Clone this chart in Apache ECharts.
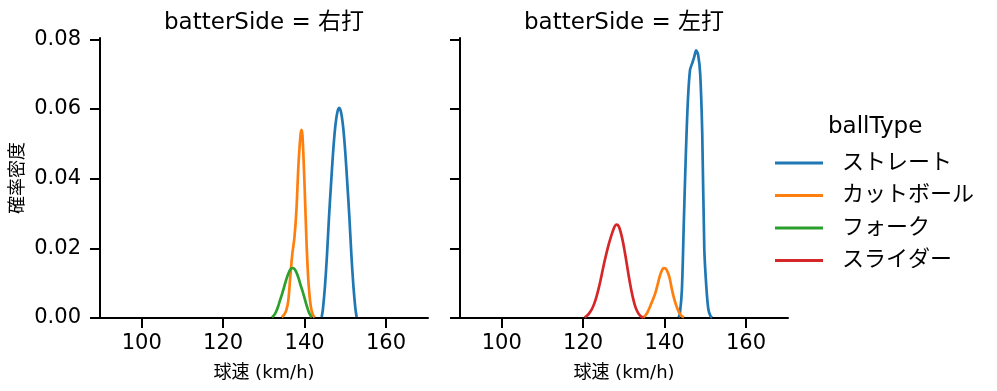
<!DOCTYPE html>
<html>
<head>
<meta charset="utf-8">
<script src="https://cdn.jsdelivr.net/npm/echarts@6/dist/echarts.min.js"></script>
<style>html,body{margin:0;padding:0;background:#fff}#c{width:997px;height:391px}</style>
</head>
<body>
<div id="c"></div>
<script>
// ---- data ----
const panels = ['右打', '左打'];
const ballTypes = ['ストレート', 'カットボール', 'フォーク', 'スライダー'];
const xTicks = [100, 120, 140, 160];
const yTicks = [0, 0.02, 0.04, 0.06, 0.08];

// batterSide = 右打
const R_straight = [[144.2,0.0003],[144.5,0.0025],[145,0.009],[145.5,0.018],[146,0.029],[146.5,0.0385],[147,0.0475],[147.5,0.0545],[148,0.0588],[148.5,0.0603],[149,0.0588],[149.5,0.0545],[150,0.0475],[150.5,0.0385],[151,0.029],[151.5,0.018],[152,0.009],[152.5,0.0025],[152.8,0.0003]];
const R_cutter = [[134.4,0.0002],[135,0.0010],[135.5,0.0022],[136,0.005],[136.5,0.012],[137,0.0185],[137.5,0.023],[138,0.031],[138.5,0.044],[139,0.0525],[139.25,0.054],[139.5,0.052],[140,0.038],[140.5,0.021],[141,0.0095],[141.5,0.0035],[142,0.001],[142.5,0.0002]];
const R_fork = [[132,0.0002],[132.5,0.0008],[133,0.0018],[133.5,0.0033],[134,0.0052],[134.5,0.007],[135,0.009],[135.5,0.011],[136,0.0127],[136.5,0.0139],[137,0.01435],[137.5,0.0141],[138,0.0131],[138.5,0.0115],[139,0.0095],[139.5,0.0077],[140,0.0057],[140.5,0.0036],[141,0.0018],[141.5,0.0006],[141.8,0.0002]];

// batterSide = 左打
const L_straight = [[143.45,0.0002],[143.75,0.0012],[144.25,0.008],[144.75,0.0285],[145.25,0.048],[145.75,0.063],[146.25,0.0712],[146.75,0.073],[147.25,0.0748],[147.75,0.0768],[148.25,0.0755],[148.75,0.07],[149.25,0.053],[149.75,0.020],[150.25,0.009],[150.75,0.0025],[151.25,0.0006],[151.65,0.0001]];
const L_cutter = [[134.75,0.0002],[135.25,0.0007],[135.75,0.0015],[136.25,0.0028],[136.75,0.0042],[137.25,0.0056],[137.75,0.0072],[138.25,0.0094],[138.75,0.0117],[139.25,0.0134],[139.75,0.0143],[140.25,0.0142],[140.75,0.0132],[141.25,0.0114],[141.75,0.0085],[142.25,0.006],[142.75,0.004],[143.25,0.0024],[143.75,0.0012],[144.25,0.0005],[144.75,0.0002]];
const L_slider = [[120.35,0.0002],[120.75,0.0005],[121.25,0.001],[121.75,0.0018],[122.25,0.0028],[122.75,0.0042],[123.25,0.006],[123.75,0.0082],[124.25,0.0107],[124.75,0.0135],[125.25,0.0162],[125.75,0.0187],[126.25,0.021],[126.75,0.023],[127.25,0.0248],[127.75,0.0263],[128.25,0.0268],[128.75,0.0263],[129.25,0.0245],[129.75,0.022],[130.25,0.0188],[130.75,0.0153],[131.25,0.0117],[131.75,0.0085],[132.25,0.0057],[132.75,0.0035],[133.25,0.002],[133.75,0.001],[134.25,0.0004],[134.75,0.0001]];

// ---- styling ----
const FONT = '"DejaVu Sans", "Noto Sans CJK JP", sans-serif';
const colorOf = {'ストレート':'#1f77b4','カットボール':'#ff7f0e','フォーク':'#2ca02c','スライダー':'#d62728'};
const X_MIN = 89.76, X_MAX = 170.31, Y_MAX = 0.08037;

function xAxisCfg(gi) {
  return {
    type: 'value', gridIndex: gi, min: X_MIN, max: X_MAX,
    name: '球速 (km/h)', nameLocation: 'middle', nameGap: 46,
    nameTextStyle: {fontFamily: FONT, fontSize: 18, color: '#000'},
    axisLine: {show: true, onZero: false, lineStyle: {color: '#000', width: 2}},
    axisTick: {show: true, length: 10, inside: false, lineStyle: {color: '#000', width: 2}, customValues: xTicks},
    axisLabel: {show: true, fontFamily: FONT, fontSize: 21, color: '#000', margin: 15, customValues: xTicks, formatter: v => String(v)},
    splitLine: {show: false}
  };
}
function yAxisCfg(gi, showLabel) {
  return {
    type: 'value', gridIndex: gi, min: 0, max: Y_MAX,
    name: showLabel ? '確率密度' : '', nameLocation: 'middle', nameGap: 73,
    nameTextStyle: {fontFamily: FONT, fontSize: 18, color: '#000'},
    axisLine: {show: true, lineStyle: {color: '#000', width: 2}},
    axisTick: {show: true, length: 10, lineStyle: {color: '#000', width: 2}, customValues: yTicks},
    axisLabel: {show: showLabel, fontFamily: FONT, fontSize: 21, color: '#000', margin: 19, customValues: yTicks, formatter: v => v.toFixed(2)},
    splitLine: {show: false}
  };
}
function line(name, data, gi) {
  return {
    type: 'line', name: name, data: data, xAxisIndex: gi, yAxisIndex: gi,
    showSymbol: false, smooth: 0.3, color: colorOf[name],
    lineStyle: {width: 2.7, color: colorOf[name]}, animation: false, z: 3
  };
}

const chart = echarts.init(document.getElementById('c'), null, {renderer: 'canvas'});
chart.setOption({
  animation: false,
  backgroundColor: '#fff',
  title: [
    {text: 'batterSide = ' + panels[0], left: 264, top: 12, textAlign: 'center', padding: 0,
     textStyle: {fontFamily: FONT, fontSize: 23, fontWeight: 'normal', color: '#000'}},
    {text: 'batterSide = ' + panels[1], left: 624, top: 12, textAlign: 'center', padding: 0,
     textStyle: {fontFamily: FONT, fontSize: 23, fontWeight: 'normal', color: '#000'}},
    {text: 'ballType', left: 828, top: 116, padding: 0,
     textStyle: {fontFamily: FONT, fontSize: 23, fontWeight: 'normal', color: '#000'}}
  ],
  legend: {
    orient: 'vertical', left: 775, top: 152, padding: 0, itemGap: 10.5,
    itemWidth: 48, itemHeight: 3, icon: 'rect',
    data: ballTypes,
    textStyle: {fontFamily: FONT, fontSize: 22, color: '#000', lineHeight: 22, padding: [0,0,0,14]},
    selectedMode: false
  },
  grid: [
    {left: 100, top: 38, width: 328, height: 280, containLabel: false},
    {left: 460, top: 38, width: 328, height: 280, containLabel: false}
  ],
  xAxis: [xAxisCfg(0), xAxisCfg(1)],
  yAxis: [yAxisCfg(0, true), yAxisCfg(1, false)],
  series: [
    line('ストレート', R_straight, 0),
    line('カットボール', R_cutter, 0),
    line('フォーク', R_fork, 0),
    line('ストレート', L_straight, 1),
    line('カットボール', L_cutter, 1),
    line('スライダー', L_slider, 1)
  ]
});
</script>
</body>
</html>
